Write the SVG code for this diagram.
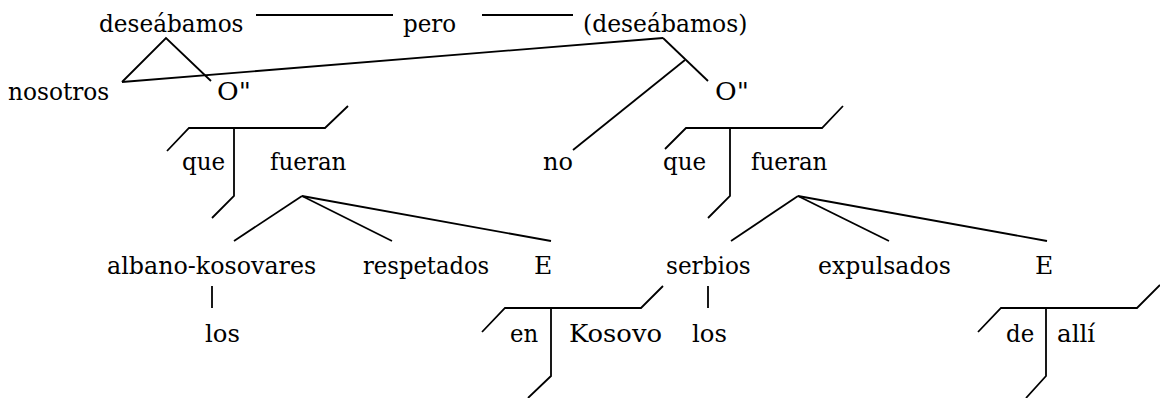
<svg xmlns="http://www.w3.org/2000/svg" width="1160" height="398" viewBox="0 0 1160 398">
<style>
text{font-family:'DejaVu Serif','Liberation Serif',serif;font-size:24px;fill:#000}
.c line,.c polyline{stroke:#000;stroke-width:1.8;fill:none}
</style>
<rect width="1160" height="398" fill="#fff"/>
<g class="c" id="connectors">
<line x1="256" y1="15" x2="393" y2="15"/>
<line x1="482" y1="15" x2="573" y2="15"/>
<polyline points="122,82 166,38 211,81"/>
<line x1="122" y1="82" x2="663" y2="38"/>
<line x1="663" y1="38" x2="708" y2="81"/>
<line x1="685" y1="60" x2="573" y2="150"/>
<polyline points="167,151 189,128 325,128 348,106"/>
<polyline points="234,128 234,196 212,218"/>
<polyline points="665,149 686,128 822,128 843,106"/>
<polyline points="730,128 730,196 708,218"/>
<line x1="302" y1="196" x2="234" y2="241"/>
<line x1="302" y1="196" x2="392" y2="241"/>
<line x1="302" y1="196" x2="551" y2="241"/>
<line x1="798" y1="196" x2="731" y2="241"/>
<line x1="798" y1="196" x2="889" y2="241"/>
<line x1="798" y1="196" x2="1047" y2="241"/>
<line x1="212" y1="286" x2="212" y2="308"/>
<line x1="708" y1="286" x2="708" y2="308"/>
<polyline points="482,332 505,308 641,308 663,286"/>
<polyline points="551,308 551,376 528,398"/>
<polyline points="978,332 1001,308 1137,308 1160,285"/>
<polyline points="1046,308 1046,376 1026,398"/>
</g>
<g id="n-deseabamos"><text x="99" y="32" textLength="144.5" lengthAdjust="spacingAndGlyphs">deseábamos</text></g>
<g id="n-pero"><text x="403" y="32" textLength="53.1" lengthAdjust="spacingAndGlyphs">pero</text></g>
<g id="n-deseabamos2"><text x="583" y="32" textLength="164.4" lengthAdjust="spacingAndGlyphs">(deseábamos)</text></g>
<g id="n-nosotros"><text x="8" y="100" textLength="101.3" lengthAdjust="spacingAndGlyphs">nosotros</text></g>
<g id="n-O1"><text x="217" y="100" textLength="33.8" lengthAdjust="spacingAndGlyphs">O"</text></g>
<g id="n-O2"><text x="715" y="100" textLength="33.8" lengthAdjust="spacingAndGlyphs">O"</text></g>
<g id="n-que1"><text x="182" y="170" textLength="43.2" lengthAdjust="spacingAndGlyphs">que</text></g>
<g id="n-fueran1"><text x="270" y="170" textLength="76.4" lengthAdjust="spacingAndGlyphs">fueran</text></g>
<g id="n-no"><text x="543" y="170" textLength="29.9" lengthAdjust="spacingAndGlyphs">no</text></g>
<g id="n-que2"><text x="663" y="170" textLength="43.2" lengthAdjust="spacingAndGlyphs">que</text></g>
<g id="n-fueran2"><text x="751" y="170" textLength="76.4" lengthAdjust="spacingAndGlyphs">fueran</text></g>
<g id="n-albano"><text x="107" y="274" textLength="209.2" lengthAdjust="spacingAndGlyphs">albano-kosovares</text></g>
<g id="n-respetados"><text x="363" y="274" textLength="126.2" lengthAdjust="spacingAndGlyphs">respetados</text></g>
<g id="n-E1"><text x="534" y="274" textLength="18.3" lengthAdjust="spacingAndGlyphs">E</text></g>
<g id="n-serbios"><text x="666" y="274" textLength="84.7" lengthAdjust="spacingAndGlyphs">serbios</text></g>
<g id="n-expulsados"><text x="818" y="274" textLength="132.9" lengthAdjust="spacingAndGlyphs">expulsados</text></g>
<g id="n-E2"><text x="1035" y="274" textLength="18.3" lengthAdjust="spacingAndGlyphs">E</text></g>
<g id="n-los1"><text x="205" y="342" textLength="34.9" lengthAdjust="spacingAndGlyphs">los</text></g>
<g id="n-en"><text x="510" y="342" textLength="28.2" lengthAdjust="spacingAndGlyphs">en</text></g>
<g id="n-Kosovo"><text x="569" y="342" textLength="93" lengthAdjust="spacingAndGlyphs">Kosovo</text></g>
<g id="n-los2"><text x="692" y="342" textLength="34.9" lengthAdjust="spacingAndGlyphs">los</text></g>
<g id="n-de"><text x="1006" y="342" textLength="28.2" lengthAdjust="spacingAndGlyphs">de</text></g>
<g id="n-alli"><text x="1057" y="342" textLength="38.2" lengthAdjust="spacingAndGlyphs">allí</text></g>
</svg>
